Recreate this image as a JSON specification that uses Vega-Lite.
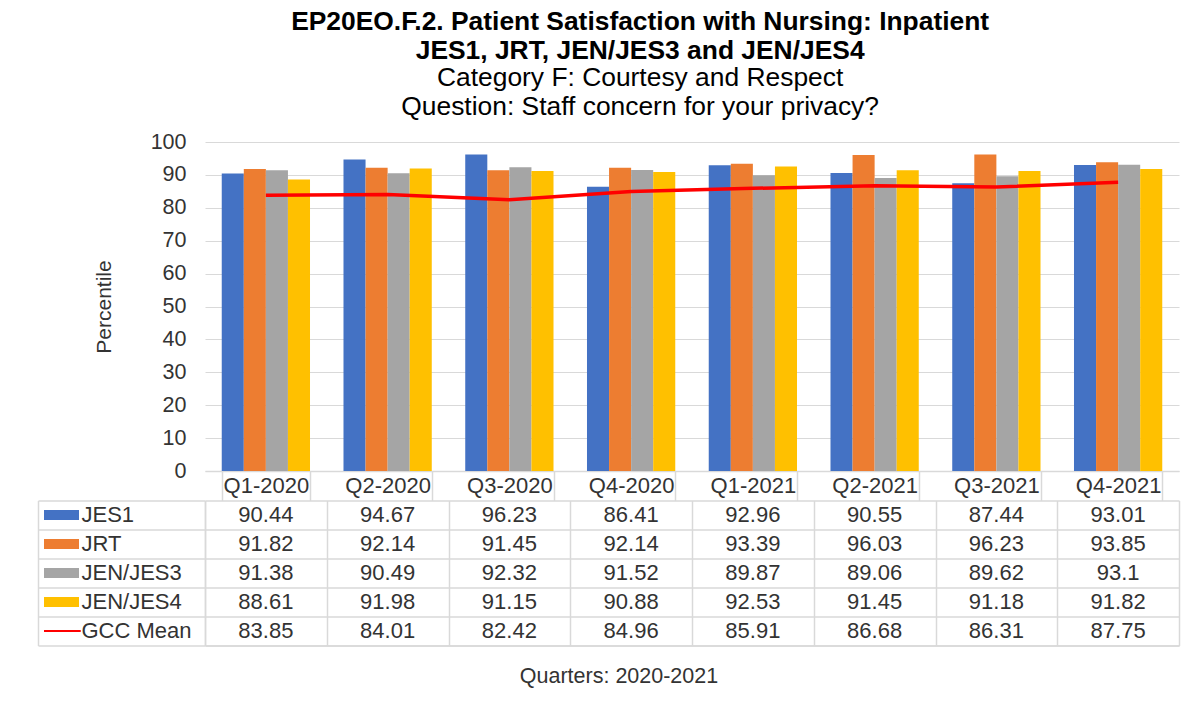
{
  "$schema": "https://vega.github.io/schema/vega-lite/v6.json",
  "background": "white",
  "padding": {"left": 37, "top": 9, "right": 10, "bottom": 10},
  "config": {
    "font": "Liberation Sans",
    "view": {"stroke": null},
    "axis": {"labelFont": "Liberation Sans", "titleFont": "Liberation Sans"}
  },
  "title": {
    "text": ["EP20EO.F.2. Patient Satisfaction with Nursing: Inpatient", "JES1, JRT, JEN/JES3 and JEN/JES4"],
    "subtitle": ["Category F: Courtesy and Respect", "Question: Staff concern for your privacy?"],
    "font": "Liberation Sans",
    "subtitleFont": "Liberation Sans",
    "fontSize": 26.4,
    "fontWeight": "bold",
    "lineHeight": 28.7,
    "subtitleFontSize": 26.4,
    "subtitleLineHeight": 28.7,
    "subtitlePadding": 1,
    "color": "#000000",
    "subtitleColor": "#000000",
    "anchor": "middle",
    "offset": 10.5,
    "dx": 32
  },
  "datasets": {
    "scores": [
      {"quarter": "Q1-2020", "series": "JES1", "value": 90.44},
      {"quarter": "Q2-2020", "series": "JES1", "value": 94.67},
      {"quarter": "Q3-2020", "series": "JES1", "value": 96.23},
      {"quarter": "Q4-2020", "series": "JES1", "value": 86.41},
      {"quarter": "Q1-2021", "series": "JES1", "value": 92.96},
      {"quarter": "Q2-2021", "series": "JES1", "value": 90.55},
      {"quarter": "Q3-2021", "series": "JES1", "value": 87.44},
      {"quarter": "Q4-2021", "series": "JES1", "value": 93.01},
      {"quarter": "Q1-2020", "series": "JRT", "value": 91.82},
      {"quarter": "Q2-2020", "series": "JRT", "value": 92.14},
      {"quarter": "Q3-2020", "series": "JRT", "value": 91.45},
      {"quarter": "Q4-2020", "series": "JRT", "value": 92.14},
      {"quarter": "Q1-2021", "series": "JRT", "value": 93.39},
      {"quarter": "Q2-2021", "series": "JRT", "value": 96.03},
      {"quarter": "Q3-2021", "series": "JRT", "value": 96.23},
      {"quarter": "Q4-2021", "series": "JRT", "value": 93.85},
      {"quarter": "Q1-2020", "series": "JEN/JES3", "value": 91.38},
      {"quarter": "Q2-2020", "series": "JEN/JES3", "value": 90.49},
      {"quarter": "Q3-2020", "series": "JEN/JES3", "value": 92.32},
      {"quarter": "Q4-2020", "series": "JEN/JES3", "value": 91.52},
      {"quarter": "Q1-2021", "series": "JEN/JES3", "value": 89.87},
      {"quarter": "Q2-2021", "series": "JEN/JES3", "value": 89.06},
      {"quarter": "Q3-2021", "series": "JEN/JES3", "value": 89.62},
      {"quarter": "Q4-2021", "series": "JEN/JES3", "value": 93.1},
      {"quarter": "Q1-2020", "series": "JEN/JES4", "value": 88.61},
      {"quarter": "Q2-2020", "series": "JEN/JES4", "value": 91.98},
      {"quarter": "Q3-2020", "series": "JEN/JES4", "value": 91.15},
      {"quarter": "Q4-2020", "series": "JEN/JES4", "value": 90.88},
      {"quarter": "Q1-2021", "series": "JEN/JES4", "value": 92.53},
      {"quarter": "Q2-2021", "series": "JEN/JES4", "value": 91.45},
      {"quarter": "Q3-2021", "series": "JEN/JES4", "value": 91.18},
      {"quarter": "Q4-2021", "series": "JEN/JES4", "value": 91.82},
      {"quarter": "Q1-2020", "series": "GCC Mean", "value": 83.85},
      {"quarter": "Q2-2020", "series": "GCC Mean", "value": 84.01},
      {"quarter": "Q3-2020", "series": "GCC Mean", "value": 82.42},
      {"quarter": "Q4-2020", "series": "GCC Mean", "value": 84.96},
      {"quarter": "Q1-2021", "series": "GCC Mean", "value": 85.91},
      {"quarter": "Q2-2021", "series": "GCC Mean", "value": 86.68},
      {"quarter": "Q3-2021", "series": "GCC Mean", "value": 86.31},
      {"quarter": "Q4-2021", "series": "GCC Mean", "value": 87.75}
    ]
  },
  "bounds": "flush",
  "spacing": 29.5,
  "resolve": {"scale": {"x": "independent", "y": "independent"}, "axis": {"x": "independent", "y": "independent"}},
  "vconcat": [
    {
      "width": 974,
      "height": 329,
      "data": {"name": "scores"},
      "encoding": {
        "x": {
          "field": "quarter",
          "type": "nominal",
          "sort": null,
          "scale": {"paddingInner": 0.275, "paddingOuter": 0.1375},
          "axis": {
            "title": null,
            "labelAngle": 0,
            "labelFontSize": 22,
            "labelColor": "#333333",
            "labelBaseline": "middle",
            "labelPadding": -14.75,
            "tickBand": "extent",
            "tickSize": 29.5,
            "tickColor": "#D9D9D9",
            "tickWidth": 1.5,
            "domainColor": "#D9D9D9",
            "domainWidth": 1.5,
            "grid": false
          }
        },
        "y": {
          "field": "value",
          "type": "quantitative",
          "scale": {"domain": [0, 100], "nice": false},
          "axis": {
            "title": "Percentile",
            "titleFontSize": 21,
            "titleFontWeight": "normal",
            "titleColor": "#333333",
            "titlePadding": 36,
            "values": [0, 10, 20, 30, 40, 50, 60, 70, 80, 90, 100],
            "labelFontSize": 21.5,
            "labelColor": "#333333",
            "labelPadding": 19,
            "ticks": false,
            "domain": false,
            "grid": true,
            "gridColor": "#D9D9D9",
            "gridWidth": 1
          }
        },
        "color": {
          "field": "series",
          "type": "nominal",
          "scale": {
            "domain": ["JES1", "JRT", "JEN/JES3", "JEN/JES4", "GCC Mean"],
            "range": ["#4472C4", "#ED7D31", "#A5A5A5", "#FFC000", "#FF0000"]
          },
          "legend": {
            "orient": "none",
            "legendX": -161,
            "legendY": 358.5,
            "title": null,
            "direction": "vertical",
            "labelExpr": "''",
            "clipHeight": 29,
            "rowPadding": 0,
            "padding": 0,
            "symbolSize": 1225,
            "symbolStrokeWidth": 0,
            "symbolType": "M-1,-0.28H1V0.28H-1Z",
            "encode": {
              "symbols": {
                "update": {
                  "shape": {"signal": "datum.value === 'GCC Mean' ? 'M-1.1,-0.055H1.1V0.055H-1.1Z' : 'M-1,-0.28H1V0.28H-1Z'"},
                  "fill": {"scale": "color", "field": "value"}
                }
              }
            }
          }
        }
      },
      "layer": [
        {
          "transform": [{"filter": "datum.series !== 'GCC Mean'"}],
          "mark": {"type": "bar"},
          "encoding": {
            "xOffset": {
              "field": "series",
              "type": "nominal",
              "sort": ["JES1", "JRT", "JEN/JES3", "JEN/JES4"],
              "scale": {"paddingInner": 0, "paddingOuter": 0}
            }
          }
        },
        {
          "transform": [{"filter": "datum.series === 'GCC Mean'"}],
          "mark": {"type": "line", "strokeWidth": 3.5},
          "encoding": {}
        }
      ]
    },
    {
      "width": 974,
      "height": 145,
      "data": {"name": "scores"},
      "encoding": {
        "x": {
          "field": "quarter",
          "type": "nominal",
          "sort": null,
          "scale": {"paddingInner": 0, "paddingOuter": 0},
          "axis": {
            "orient": "bottom",
            "labels": false,
            "ticks": false,
            "domainColor": "#D9D9D9",
            "domainWidth": 1.5,
            "grid": true,
            "tickBand": "extent",
            "gridColor": "#D9D9D9",
            "gridWidth": 1.5,
            "title": "Quarters: 2020-2021",
            "titleFontSize": 21.5,
            "titleFontWeight": "normal",
            "titleColor": "#333333",
            "titlePadding": 20,
            "titleX": 413.5
          }
        },
        "y": {
          "field": "series",
          "type": "nominal",
          "scale": {"domain": ["JES1", "JRT", "JEN/JES3", "JEN/JES4", "GCC Mean"], "paddingInner": 0, "paddingOuter": 0}
        }
      },
      "layer": [
        {
          "mark": {"type": "text", "fontSize": 22, "color": "#333333", "baseline": "middle"},
          "encoding": {
            "text": {"field": "value", "type": "quantitative"},
            "y": {
              "field": "series",
              "type": "nominal",
              "scale": {"domain": ["JES1", "JRT", "JEN/JES3", "JEN/JES4", "GCC Mean"], "paddingInner": 0, "paddingOuter": 0},
              "axis": {
                "title": null,
                "labels": false,
                "tickBand": "extent",
                "tickSize": 167,
                "tickColor": "#D9D9D9",
                "tickWidth": 1.5,
                "domainColor": "#D9D9D9",
                "domainWidth": 1.5,
                "grid": true,
                "gridColor": "#D9D9D9",
                "gridWidth": 1.5
              }
            }
          }
        },
        {
          "mark": {"type": "text", "fontSize": 22, "opacity": 0},
          "encoding": {
            "text": {"field": "value", "type": "quantitative"},
            "y": {
              "field": "series",
              "type": "nominal",
              "scale": {"domain": ["JES1", "JRT", "JEN/JES3", "JEN/JES4", "GCC Mean"], "paddingInner": 0, "paddingOuter": 0},
              "axis": {
                "orient": "left",
                "offset": 167,
                "title": null,
                "ticks": false,
                "grid": false,
                "labelAlign": "left",
                "labelBaseline": "middle",
                "labelPadding": -43,
                "labelFontSize": 22,
                "labelColor": "#333333",
                "domainColor": "#D9D9D9",
                "domainWidth": 1.5
              }
            }
          }
        }
      ],
      "resolve": {"axis": {"y": "independent"}}
    }
  ]
}
